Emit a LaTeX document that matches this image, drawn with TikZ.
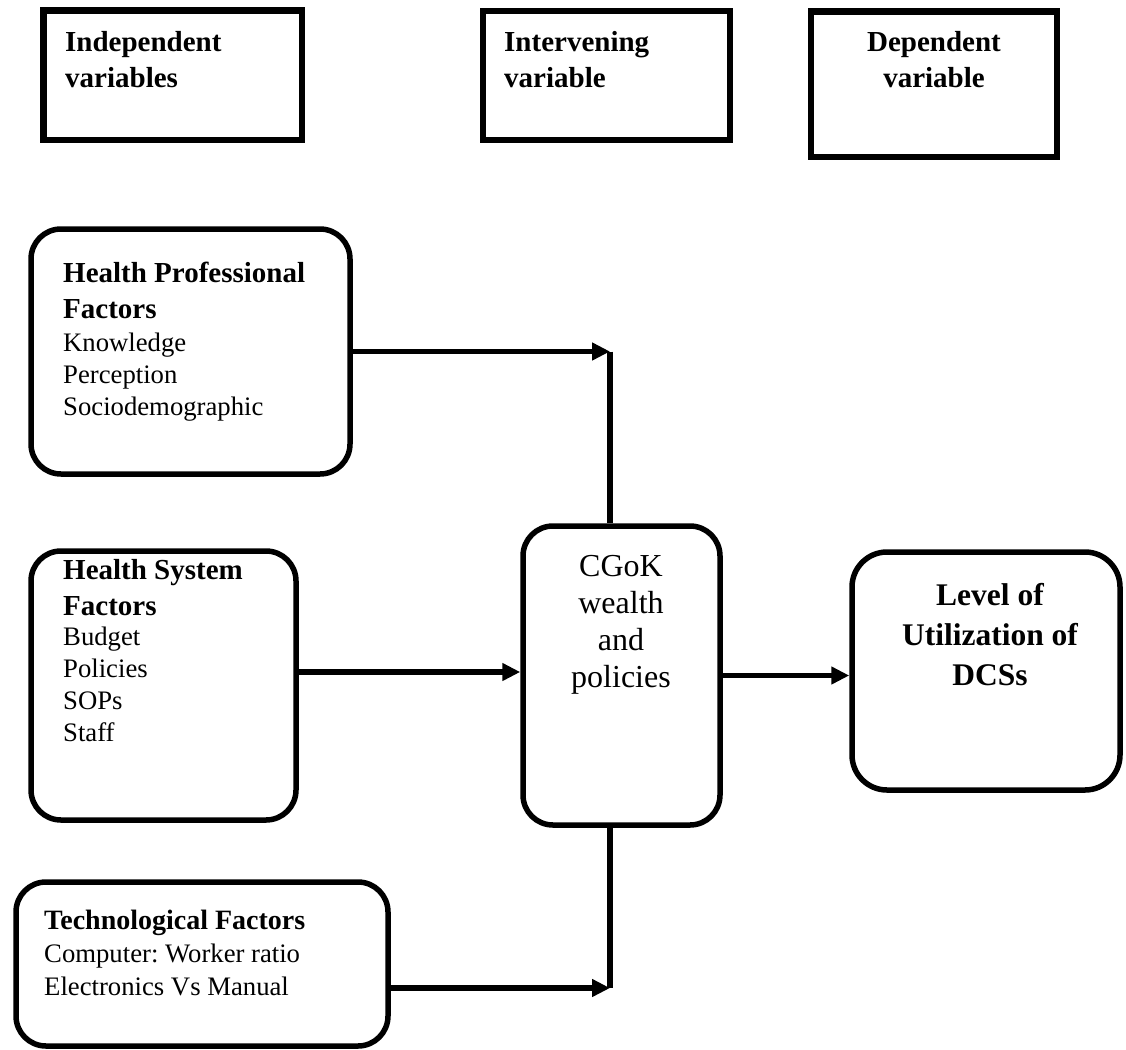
\documentclass[tikz,border=0pt]{standalone}
\usepackage{fontspec}
\setmainfont{Liberation Serif}
\usetikzlibrary{arrows.meta, positioning, calc}
\frenchspacing

\begin{document}
\begin{tikzpicture}[x=1pt, y=-1pt, >={Triangle[length=18pt,width=17pt]},
    hdr/.style={draw, line width=6.5pt, inner sep=0pt},
    fbox/.style={draw, line width=5.5pt, rounded corners=30pt, inner sep=0pt},
    txt/.style={inner sep=0pt, anchor=north west, align=left},
    ttl/.style={txt, font=\fontsize{29}{36}\selectfont\bfseries},
    lst/.style={txt, font=\fontsize{26.7}{32}\selectfont},
    flow/.style={->, line width=5.5pt}]
  \useasboundingbox (0,0) rectangle (1126,1049);

  % headings
  \node[hdr, minimum width=258.5pt, minimum height=129.5pt] (indep) at (172.75,75.25) {};
  \node[hdr, minimum width=247pt, minimum height=129pt] (interv) at (606.5,75.5) {};
  \node[hdr, minimum width=246pt, minimum height=145.5pt] (dep) at (934,84.25) {};
  \node[ttl] (indepT) at (65,31.5) {Independent\\variables};
  \node[ttl] (intervT) at (504,31.5) {Intervening\\variable};
  \node[ttl, anchor=north, align=center] (depT) at (934,31.5) {Dependent\\variable};

  % factor boxes
  \node[fbox, minimum width=319pt, minimum height=245pt] (hp) at (190.5,351.5) {};
  \node[fbox, minimum width=265pt, minimum height=269pt] (hs) at (163.5,685.5) {};
  \node[fbox, minimum width=372pt, minimum height=164pt] (tech) at (202,964) {};
  \node[fbox, minimum width=197pt, minimum height=299pt] (cgok) at (621.5,675.5) {};
  \node[fbox, minimum width=268pt, minimum height=238pt, rounded corners=35pt] (level) at (986,671) {};

  \node[ttl] (hpT) at (63,261.5) {Health Professional\\Factors};
  \node[lst] (hpL) at (63,332.5) {Knowledge\\Perception\\Sociodemographic};
  \node[ttl] (hsT) at (63,559.5) {Health System\\Factors};
  \node[lst] (hsL) at (63,626.5) {Budget\\Policies\\SOPs\\Staff};
  \node[ttl, font=\fontsize{28}{33}\selectfont\bfseries] (techT) at (44,910) {Technological Factors};
  \node[lst, font=\fontsize{26.7}{33}\selectfont] (techL) at (44,943.5) {Computer: Worker ratio\\Electronics Vs Manual};
  \node[txt, anchor=north, align=center, font=\fontsize{32}{37}\selectfont] (cgokT) at (621,555.5) {CGoK\\wealth\\and\\policies};
  \node[txt, anchor=north, align=center, font=\fontsize{31.5}{40}\selectfont\bfseries] (levelT) at (990,583.5) {Level of\\Utilization of\\DCSs};

  % connectors
  \coordinate (hpEnd) at (hp.east -| 610,0);
  \coordinate (hsOut) at ([yshift=13.5pt]hs.east);
  \coordinate (techOut) at ([yshift=-24pt]tech.east);
  \coordinate (techEnd) at (techOut -| hpEnd);
  \draw[flow] (hp.east) -- (hpEnd);
  \draw[line width=5.5pt] (hpEnd) -- (hpEnd |- cgok.north);
  \draw[flow] (hsOut) -- (hsOut -| cgok.west);
  \draw[flow] (cgok.east) -- (cgok.east -| level.west);
  \draw[flow] (techOut) -- (techEnd);
  \draw[line width=5.5pt] (cgok.south -| techEnd) -- (techEnd);
\end{tikzpicture}
\end{document}
